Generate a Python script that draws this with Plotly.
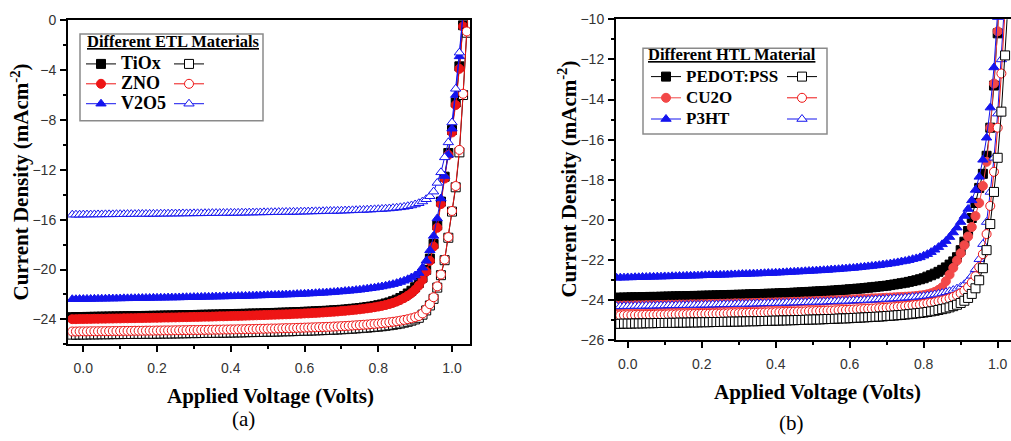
import plotly.graph_objects as go

# ---------------- data ----------------
voltage = [-0.03, -0.02, -0.01, 0.00,
           0.01, 0.02, 0.03, 0.04, 0.05, 0.06, 0.07, 0.08, 0.09, 0.10,
           0.11, 0.12, 0.13, 0.14, 0.15, 0.16, 0.17, 0.18, 0.19, 0.20,
           0.21, 0.22, 0.23, 0.24, 0.25, 0.26, 0.27, 0.28, 0.29, 0.30,
           0.31, 0.32, 0.33, 0.34, 0.35, 0.36, 0.37, 0.38, 0.39, 0.40,
           0.41, 0.42, 0.43, 0.44, 0.45, 0.46, 0.47, 0.48, 0.49, 0.50,
           0.51, 0.52, 0.53, 0.54, 0.55, 0.56, 0.57, 0.58, 0.59, 0.60,
           0.61, 0.62, 0.63, 0.64, 0.65, 0.66, 0.67, 0.68, 0.69, 0.70,
           0.71, 0.72, 0.73, 0.74, 0.75, 0.76, 0.77, 0.78, 0.79, 0.80,
           0.81, 0.82, 0.83, 0.84, 0.85, 0.86, 0.87, 0.88, 0.89, 0.90,
           0.91, 0.92, 0.93, 0.94, 0.95, 0.96, 0.97, 0.98, 0.99, 1.00,
           1.01, 1.02, 1.03, 1.04, 1.05]

# (a) Different ETL materials
etl_TiOx_filled = [-23.82, -23.82, -23.81, -23.81,
    -23.80, -23.80, -23.79, -23.79, -23.78, -23.78, -23.77, -23.77, -23.76, -23.76,
    -23.75, -23.75, -23.74, -23.74, -23.73, -23.73, -23.72, -23.72, -23.71, -23.71,
    -23.70, -23.69, -23.69, -23.68, -23.68, -23.67, -23.66, -23.66, -23.65, -23.65,
    -23.64, -23.63, -23.63, -23.62, -23.61, -23.61, -23.60, -23.59, -23.59, -23.58,
    -23.57, -23.56, -23.56, -23.55, -23.54, -23.53, -23.53, -23.52, -23.51, -23.50,
    -23.49, -23.48, -23.47, -23.46, -23.45, -23.44, -23.43, -23.42, -23.41, -23.39,
    -23.38, -23.37, -23.35, -23.34, -23.32, -23.31, -23.29, -23.27, -23.25, -23.23,
    -23.21, -23.18, -23.15, -23.12, -23.09, -23.05, -23.01, -22.97, -22.92, -22.86,
    -22.80, -22.72, -22.64, -22.54, -22.42, -22.28, -22.12, -21.92, -21.70, -21.42,
    -21.08, -20.65, -20.02, -19.12, -17.95, -16.45, -14.55, -12.55, -10.65, -8.80,
    -6.60, -3.70, -0.40, 3.00]
etl_ZNO_filled = [-23.98, -23.98, -23.97, -23.97,
    -23.96, -23.96, -23.95, -23.95, -23.94, -23.94, -23.93, -23.93, -23.92, -23.92,
    -23.91, -23.91, -23.90, -23.90, -23.89, -23.89, -23.88, -23.88, -23.87, -23.87,
    -23.86, -23.85, -23.85, -23.84, -23.84, -23.83, -23.82, -23.82, -23.81, -23.80,
    -23.80, -23.79, -23.78, -23.78, -23.77, -23.76, -23.75, -23.75, -23.74, -23.73,
    -23.72, -23.72, -23.71, -23.70, -23.69, -23.68, -23.67, -23.66, -23.65, -23.64,
    -23.63, -23.62, -23.61, -23.60, -23.59, -23.58, -23.56, -23.55, -23.54, -23.52,
    -23.51, -23.49, -23.48, -23.46, -23.44, -23.42, -23.40, -23.38, -23.36, -23.33,
    -23.31, -23.28, -23.25, -23.22, -23.19, -23.15, -23.11, -23.07, -23.02, -22.97,
    -22.91, -22.84, -22.76, -22.67, -22.56, -22.43, -22.28, -22.10, -21.89, -21.62,
    -21.28, -20.82, -20.18, -19.30, -18.15, -16.65, -14.75, -12.70, -10.80, -9.00,
    -6.80, -3.90, -0.50, 3.00]
etl_V2O5_filled = [-22.38, -22.38, -22.37, -22.37,
    -22.36, -22.36, -22.35, -22.35, -22.34, -22.34, -22.33, -22.33, -22.32, -22.32,
    -22.31, -22.31, -22.30, -22.30, -22.29, -22.29, -22.28, -22.28, -22.27, -22.27,
    -22.26, -22.26, -22.25, -22.25, -22.24, -22.24, -22.23, -22.22, -22.22, -22.21,
    -22.21, -22.20, -22.19, -22.19, -22.18, -22.17, -22.17, -22.16, -22.15, -22.15,
    -22.14, -22.13, -22.12, -22.12, -22.11, -22.10, -22.09, -22.08, -22.07, -22.06,
    -22.05, -22.04, -22.03, -22.02, -22.01, -22.00, -21.99, -21.97, -21.96, -21.95,
    -21.93, -21.92, -21.90, -21.88, -21.87, -21.85, -21.83, -21.81, -21.78, -21.76,
    -21.73, -21.71, -21.68, -21.65, -21.62, -21.58, -21.54, -21.50, -21.46, -21.41,
    -21.36, -21.30, -21.24, -21.17, -21.09, -21.00, -20.90, -20.78, -20.64, -20.48,
    -20.28, -19.85, -19.30, -18.45, -17.30, -15.90, -14.30, -12.50, -10.80, -8.70,
    -6.00, -2.90, 0.50]
etl_TiOx_open = [-25.22, -25.22, -25.21, -25.21,
    -25.21, -25.20, -25.20, -25.20, -25.19, -25.19, -25.19, -25.18, -25.18, -25.18,
    -25.17, -25.17, -25.17, -25.16, -25.16, -25.16, -25.15, -25.15, -25.15, -25.14,
    -25.14, -25.13, -25.13, -25.13, -25.12, -25.12, -25.11, -25.11, -25.10, -25.10,
    -25.10, -25.09, -25.09, -25.08, -25.08, -25.07, -25.07, -25.06, -25.06, -25.05,
    -25.05, -25.04, -25.04, -25.03, -25.02, -25.02, -25.01, -25.00, -25.00, -24.99,
    -24.98, -24.98, -24.97, -24.96, -24.95, -24.95, -24.94, -24.93, -24.92, -24.91,
    -24.90, -24.89, -24.88, -24.87, -24.86, -24.85, -24.84, -24.82, -24.81, -24.79,
    -24.78, -24.76, -24.74, -24.72, -24.70, -24.68, -24.66, -24.63, -24.61, -24.58,
    -24.55, -24.51, -24.47, -24.43, -24.38, -24.33, -24.26, -24.19, -24.10, -24.00,
    -23.87, -23.62, -23.28, -22.88, -22.35, -21.45, -20.45, -19.25, -17.45, -15.35,
    -13.40, -10.60, -6.00, -1.00, 4.00]
etl_ZNO_open = [-24.97, -24.97, -24.96, -24.96,
    -24.96, -24.95, -24.95, -24.95, -24.94, -24.94, -24.94, -24.93, -24.93, -24.93,
    -24.92, -24.92, -24.92, -24.91, -24.91, -24.91, -24.90, -24.90, -24.90, -24.89,
    -24.89, -24.88, -24.88, -24.88, -24.87, -24.87, -24.86, -24.86, -24.85, -24.85,
    -24.85, -24.84, -24.84, -24.83, -24.83, -24.82, -24.82, -24.81, -24.81, -24.80,
    -24.80, -24.79, -24.79, -24.78, -24.77, -24.77, -24.76, -24.75, -24.75, -24.74,
    -24.73, -24.73, -24.72, -24.71, -24.70, -24.70, -24.69, -24.68, -24.67, -24.66,
    -24.65, -24.64, -24.63, -24.62, -24.61, -24.60, -24.59, -24.57, -24.56, -24.54,
    -24.53, -24.51, -24.49, -24.47, -24.45, -24.43, -24.41, -24.38, -24.36, -24.33,
    -24.30, -24.27, -24.23, -24.19, -24.15, -24.10, -24.04, -23.98, -23.91, -23.83,
    -23.73, -23.52, -23.20, -22.78, -22.22, -21.35, -20.40, -19.20, -17.40, -15.30,
    -13.30, -10.40, -5.90, -0.90, 4.00]
etl_V2O5_open = [-15.60, -15.60, -15.60, -15.59,
    -15.59, -15.59, -15.58, -15.58, -15.58, -15.57, -15.57, -15.57, -15.56, -15.56,
    -15.56, -15.55, -15.55, -15.55, -15.54, -15.54, -15.54, -15.53, -15.53, -15.53,
    -15.52, -15.52, -15.52, -15.51, -15.51, -15.51, -15.50, -15.50, -15.50, -15.49,
    -15.49, -15.49, -15.48, -15.48, -15.47, -15.47, -15.47, -15.46, -15.46, -15.45,
    -15.45, -15.45, -15.44, -15.44, -15.43, -15.43, -15.42, -15.42, -15.41, -15.41,
    -15.40, -15.40, -15.39, -15.39, -15.38, -15.38, -15.37, -15.37, -15.36, -15.35,
    -15.35, -15.34, -15.33, -15.33, -15.32, -15.31, -15.30, -15.30, -15.29, -15.28,
    -15.27, -15.26, -15.25, -15.24, -15.23, -15.22, -15.20, -15.19, -15.17, -15.16,
    -15.14, -15.12, -15.10, -15.07, -15.04, -15.01, -14.97, -14.92, -14.86, -14.78,
    -14.68, -14.54, -14.36, -14.12, -13.75, -13.05, -12.20, -11.00, -9.80, -8.20,
    -5.50, -2.60, 0.60]

# (b) Different HTL materials
htl_PEDOT_filled = [-23.87, -23.87, -23.86, -23.86,
    -23.85, -23.85, -23.85, -23.84, -23.84, -23.83, -23.83, -23.83, -23.82, -23.82,
    -23.81, -23.81, -23.80, -23.80, -23.80, -23.79, -23.79, -23.78, -23.78, -23.77,
    -23.77, -23.76, -23.76, -23.75, -23.75, -23.74, -23.74, -23.73, -23.73, -23.72,
    -23.72, -23.71, -23.70, -23.70, -23.69, -23.69, -23.68, -23.67, -23.67, -23.66,
    -23.65, -23.64, -23.64, -23.63, -23.62, -23.61, -23.60, -23.59, -23.58, -23.57,
    -23.56, -23.55, -23.54, -23.53, -23.52, -23.51, -23.49, -23.48, -23.47, -23.45,
    -23.44, -23.42, -23.41, -23.39, -23.37, -23.35, -23.33, -23.31, -23.29, -23.27,
    -23.24, -23.21, -23.18, -23.15, -23.12, -23.08, -23.04, -23.00, -22.95, -22.90,
    -22.82, -22.75, -22.67, -22.58, -22.48, -22.36, -22.22, -22.06, -21.85, -21.50,
    -21.08, -20.55, -19.90, -19.15, -18.40, -17.70, -16.80, -15.40, -13.30, -10.70,
    -7.50]
htl_CU2O_filled = [-24.27, -24.27, -24.26, -24.26,
    -24.26, -24.25, -24.25, -24.25, -24.24, -24.24, -24.24, -24.23, -24.23, -24.23,
    -24.22, -24.22, -24.22, -24.21, -24.21, -24.21, -24.20, -24.20, -24.20, -24.19,
    -24.19, -24.18, -24.18, -24.18, -24.17, -24.17, -24.16, -24.16, -24.15, -24.15,
    -24.15, -24.14, -24.14, -24.13, -24.13, -24.12, -24.12, -24.11, -24.11, -24.10,
    -24.10, -24.09, -24.09, -24.08, -24.07, -24.07, -24.06, -24.05, -24.05, -24.04,
    -24.03, -24.03, -24.02, -24.01, -24.00, -24.00, -23.99, -23.98, -23.97, -23.96,
    -23.95, -23.94, -23.93, -23.92, -23.91, -23.90, -23.90, -23.89, -23.88, -23.87,
    -23.86, -23.85, -23.84, -23.83, -23.82, -23.81, -23.80, -23.78, -23.76, -23.74,
    -23.70, -23.65, -23.58, -23.48, -23.35, -23.05, -22.72, -22.38, -22.02, -21.65,
    -21.25, -20.82, -20.35, -19.80, -19.15, -18.30, -17.10, -15.40, -13.20, -10.60,
    -7.60]
htl_P3HT_filled = [-22.88, -22.87, -22.87, -22.86,
    -22.86, -22.85, -22.85, -22.84, -22.84, -22.83, -22.83, -22.82, -22.82, -22.81,
    -22.81, -22.80, -22.80, -22.79, -22.79, -22.78, -22.78, -22.77, -22.77, -22.76,
    -22.75, -22.75, -22.74, -22.74, -22.73, -22.73, -22.72, -22.71, -22.71, -22.70,
    -22.69, -22.69, -22.68, -22.67, -22.67, -22.66, -22.65, -22.64, -22.64, -22.63,
    -22.62, -22.61, -22.60, -22.59, -22.58, -22.57, -22.56, -22.55, -22.54, -22.53,
    -22.52, -22.51, -22.50, -22.49, -22.47, -22.46, -22.45, -22.43, -22.42, -22.40,
    -22.39, -22.37, -22.35, -22.33, -22.31, -22.29, -22.27, -22.25, -22.22, -22.20,
    -22.17, -22.14, -22.11, -22.07, -22.04, -22.00, -21.95, -21.91, -21.86, -21.78,
    -21.70, -21.60, -21.48, -21.35, -21.21, -21.05, -20.85, -20.62, -20.38, -20.10,
    -19.80, -19.45, -19.02, -18.50, -17.85, -17.00, -15.90, -14.40, -12.40, -9.90,
    -6.80]
htl_PEDOT_open = [-25.17, -25.17, -25.16, -25.16,
    -25.16, -25.15, -25.15, -25.15, -25.14, -25.14, -25.14, -25.13, -25.13, -25.13,
    -25.12, -25.12, -25.12, -25.11, -25.11, -25.11, -25.10, -25.10, -25.10, -25.09,
    -25.09, -25.09, -25.08, -25.08, -25.08, -25.07, -25.07, -25.06, -25.06, -25.06,
    -25.05, -25.05, -25.04, -25.04, -25.04, -25.03, -25.03, -25.02, -25.02, -25.01,
    -25.01, -25.00, -25.00, -24.99, -24.99, -24.98, -24.98, -24.97, -24.96, -24.96,
    -24.95, -24.95, -24.94, -24.93, -24.93, -24.92, -24.91, -24.90, -24.90, -24.89,
    -24.88, -24.87, -24.86, -24.85, -24.84, -24.83, -24.82, -24.81, -24.80, -24.78,
    -24.77, -24.76, -24.74, -24.73, -24.71, -24.69, -24.67, -24.65, -24.63, -24.61,
    -24.58, -24.55, -24.52, -24.48, -24.44, -24.40, -24.35, -24.29, -24.22, -24.13,
    -24.02, -23.88, -23.68, -23.40, -23.00, -22.40, -21.50, -20.20, -18.60, -16.90,
    -14.60, -11.80, -8.60]
htl_CU2O_open = [-24.75, -24.75, -24.74, -24.74,
    -24.74, -24.73, -24.73, -24.73, -24.72, -24.72, -24.72, -24.71, -24.71, -24.71,
    -24.70, -24.70, -24.70, -24.69, -24.69, -24.69, -24.68, -24.68, -24.68, -24.67,
    -24.67, -24.67, -24.66, -24.66, -24.66, -24.65, -24.65, -24.64, -24.64, -24.64,
    -24.63, -24.63, -24.62, -24.62, -24.62, -24.61, -24.61, -24.60, -24.60, -24.59,
    -24.59, -24.58, -24.58, -24.57, -24.57, -24.56, -24.56, -24.55, -24.54, -24.54,
    -24.53, -24.53, -24.52, -24.51, -24.51, -24.50, -24.49, -24.48, -24.48, -24.47,
    -24.46, -24.45, -24.44, -24.43, -24.42, -24.41, -24.40, -24.39, -24.38, -24.37,
    -24.35, -24.34, -24.32, -24.31, -24.29, -24.27, -24.25, -24.23, -24.21, -24.18,
    -24.15, -24.12, -24.09, -24.05, -24.01, -23.96, -23.90, -23.83, -23.75, -23.65,
    -23.52, -23.35, -23.12, -22.80, -22.35, -21.70, -20.70, -19.30, -17.60, -15.40,
    -12.70, -9.60, -6.30]
htl_P3HT_open = [-24.30, -24.30, -24.29, -24.29,
    -24.29, -24.28, -24.28, -24.28, -24.27, -24.27, -24.27, -24.26, -24.26, -24.26,
    -24.25, -24.25, -24.25, -24.24, -24.24, -24.24, -24.23, -24.23, -24.23, -24.22,
    -24.22, -24.22, -24.21, -24.21, -24.20, -24.20, -24.20, -24.19, -24.19, -24.18,
    -24.18, -24.18, -24.17, -24.17, -24.16, -24.16, -24.15, -24.15, -24.14, -24.14,
    -24.13, -24.13, -24.12, -24.12, -24.11, -24.11, -24.10, -24.10, -24.09, -24.08,
    -24.08, -24.07, -24.07, -24.06, -24.05, -24.05, -24.04, -24.03, -24.03, -24.02,
    -24.01, -24.00, -24.00, -23.99, -23.98, -23.97, -23.96, -23.95, -23.94, -23.93,
    -23.92, -23.91, -23.90, -23.89, -23.87, -23.86, -23.84, -23.83, -23.81, -23.79,
    -23.77, -23.74, -23.71, -23.68, -23.64, -23.60, -23.55, -23.49, -23.42, -23.33,
    -23.20, -23.02, -22.78, -22.45, -21.95, -21.20, -20.10, -18.60, -16.90, -14.70,
    -12.00, -9.00, -5.80]

etl_labels = ["TiOx", "ZNO", "V2O5"]
htl_labels = ["PEDOT:PSS", "CU2O", "P3HT"]

# ---------------- styling ----------------
W, H = 1011, 441
BLACK = "#000000"
RED = "#ee1515"
RED_LIGHT = "#f24848"
BLUE = "#1414ee"
SERIF = "Liberation Serif"
SANS = "Liberation Sans"


def px_x(p):
    return p / W


def px_y(p):
    return 1 - p / H


fig = go.Figure()


def add_series(y, color, symbol, filled, xa, ya, name, legend, rank):
    fig.add_trace(go.Scatter(
        x=voltage[:len(y)], y=y, mode="lines+markers",
        xaxis=xa, yaxis=ya, name=name, legend=legend, legendrank=rank,
        line=dict(color=color, width=1),
        marker=dict(symbol=symbol, size=9,
                    color=color if filled else "white",
                    line=dict(color=color, width=1)),
    ))


def lbl(t, size):
    return f"<span style='font-size:{size}px'>{t}</span>"


# panel (a)
add_series(etl_TiOx_filled, BLACK, "square", True, "x", "y", lbl(etl_labels[0], 18), "legend", 1)
add_series(etl_ZNO_filled, RED, "circle", True, "x", "y", lbl(etl_labels[1], 18), "legend", 2)
add_series(etl_V2O5_filled, BLUE, "triangle-up", True, "x", "y", lbl(etl_labels[2], 18), "legend", 3)
add_series(etl_TiOx_open, BLACK, "square", False, "x", "y", "", "legend2", 1)
add_series(etl_ZNO_open, RED, "circle", False, "x", "y", "", "legend2", 2)
add_series(etl_V2O5_open, BLUE, "triangle-up", False, "x", "y", "", "legend2", 3)

# panel (b)
add_series(htl_PEDOT_filled, BLACK, "square", True, "x2", "y2", lbl(htl_labels[0], 17), "legend3", 1)
add_series(htl_CU2O_filled, RED_LIGHT, "circle", True, "x2", "y2", lbl(htl_labels[1], 17), "legend3", 2)
add_series(htl_P3HT_filled, BLUE, "triangle-up", True, "x2", "y2", lbl(htl_labels[2], 17), "legend3", 3)
add_series(htl_P3HT_open, BLUE, "triangle-up", False, "x2", "y2", "", "legend4", 3)
add_series(htl_CU2O_open, RED, "circle", False, "x2", "y2", "", "legend4", 2)
add_series(htl_PEDOT_open, BLACK, "square", False, "x2", "y2", "", "legend4", 1)

axis_common = dict(
    showline=True, linewidth=2, linecolor=BLACK,
    ticks="outside", ticklen=6, tickwidth=1.5, tickcolor=BLACK,
    tickfont=dict(family=SANS, size=14, color="#333333"),
    showgrid=False, zeroline=False,
)

fig.update_layout(
    width=W, height=H,
    margin=dict(l=0, r=0, t=0, b=0),
    paper_bgcolor="white", plot_bgcolor="white",
    xaxis=dict(domain=[px_x(68), px_x(470)], range=[-0.0415, 1.0488], anchor="y",
               dtick=0.2, tick0=0, tickformat=".1f", mirror=True, ticklabelstandoff=4,
               minor=dict(dtick=0.1, ticks="outside", ticklen=3, tickcolor=BLACK), **axis_common),
    yaxis=dict(domain=[px_y(349), px_y(12.7)], range=[-26, 0], anchor="x",
               dtick=4, tick0=0, mirror=True, ticklabelstandoff=1,
               minor=dict(dtick=2, ticks="outside", ticklen=3, tickcolor=BLACK), **axis_common),
    xaxis2=dict(domain=[px_x(616), 1.0], range=[-0.0316, 1.036], anchor="y2",
                dtick=0.2, tick0=0, tickformat=".1f", mirror=True, ticklabelstandoff=4,
                minor=dict(dtick=0.1, ticks="outside", ticklen=3, tickcolor=BLACK), **axis_common),
    yaxis2=dict(domain=[px_y(345), px_y(11.7)], range=[-26, -10], anchor="x2",
                dtick=2, tick0=0, mirror=False, ticklabelstandoff=1,
                minor=dict(dtick=1, ticks="outside", ticklen=3, tickcolor=BLACK), **axis_common),
    showlegend=True,
)

leg_common = dict(xanchor="left", yanchor="top", bgcolor="rgba(0,0,0,0)", borderwidth=0,
                  tracegroupgap=0, itemwidth=30, itemclick=False, itemdoubleclick=False)
fig.update_layout(
    legend=dict(x=px_x(81), y=px_y(42.5), font=dict(family=SERIF, size=13, color=BLACK, weight="bold"), **leg_common),
    legend2=dict(x=px_x(169), y=px_y(42.5), font=dict(family=SERIF, size=13, color=BLACK, weight="bold"), **leg_common),
    legend3=dict(x=px_x(646), y=px_y(55), font=dict(family=SERIF, size=14, color=BLACK, weight="bold"), **leg_common),
    legend4=dict(x=px_x(782), y=px_y(55), font=dict(family=SERIF, size=14, color=BLACK, weight="bold"), **leg_common),
)

# legend frames
fig.add_shape(type="rect", xref="paper", yref="paper",
              x0=px_x(80), x1=px_x(263), y0=px_y(117), y1=px_y(27),
              line=dict(color="#8a8a8a", width=1.5), fillcolor="white", layer="above")
fig.add_shape(type="rect", xref="paper", yref="paper",
              x0=px_x(643), x1=px_x(827), y0=px_y(130.7), y1=px_y(41.7),
              line=dict(color="#8a8a8a", width=1.5), fillcolor="white", layer="above")


def note(text, x, y, size, bold=False, angle=0):
    fig.add_annotation(text=f"<b>{text}</b>" if bold else text,
                       xref="paper", yref="paper", x=px_x(x), y=px_y(y),
                       xanchor="center", yanchor="middle", showarrow=False,
                       textangle=angle, font=dict(family=SERIF, size=size, color=BLACK))


note("<u>Different ETL Materials</u>", 173, 35, 16.5, bold=True)
note("<u>Different HTL Material</u>", 731.5, 48, 16.5, bold=True)
note("Current Density (mAcm<sup>-2</sup>)", 20, 181, 21, bold=True, angle=-90)
note("Current Density (mAcm<sup>-2</sup>)", 568, 178, 21, bold=True, angle=-90)
note("Applied Voltage (Volts)", 270, 403, 21, bold=True)
note("Applied Voltage (Volts)", 817, 398, 21, bold=True)
note("(a)", 243, 426, 21)
note("(b)", 791, 431, 21)

fig.write_html("out.html")
